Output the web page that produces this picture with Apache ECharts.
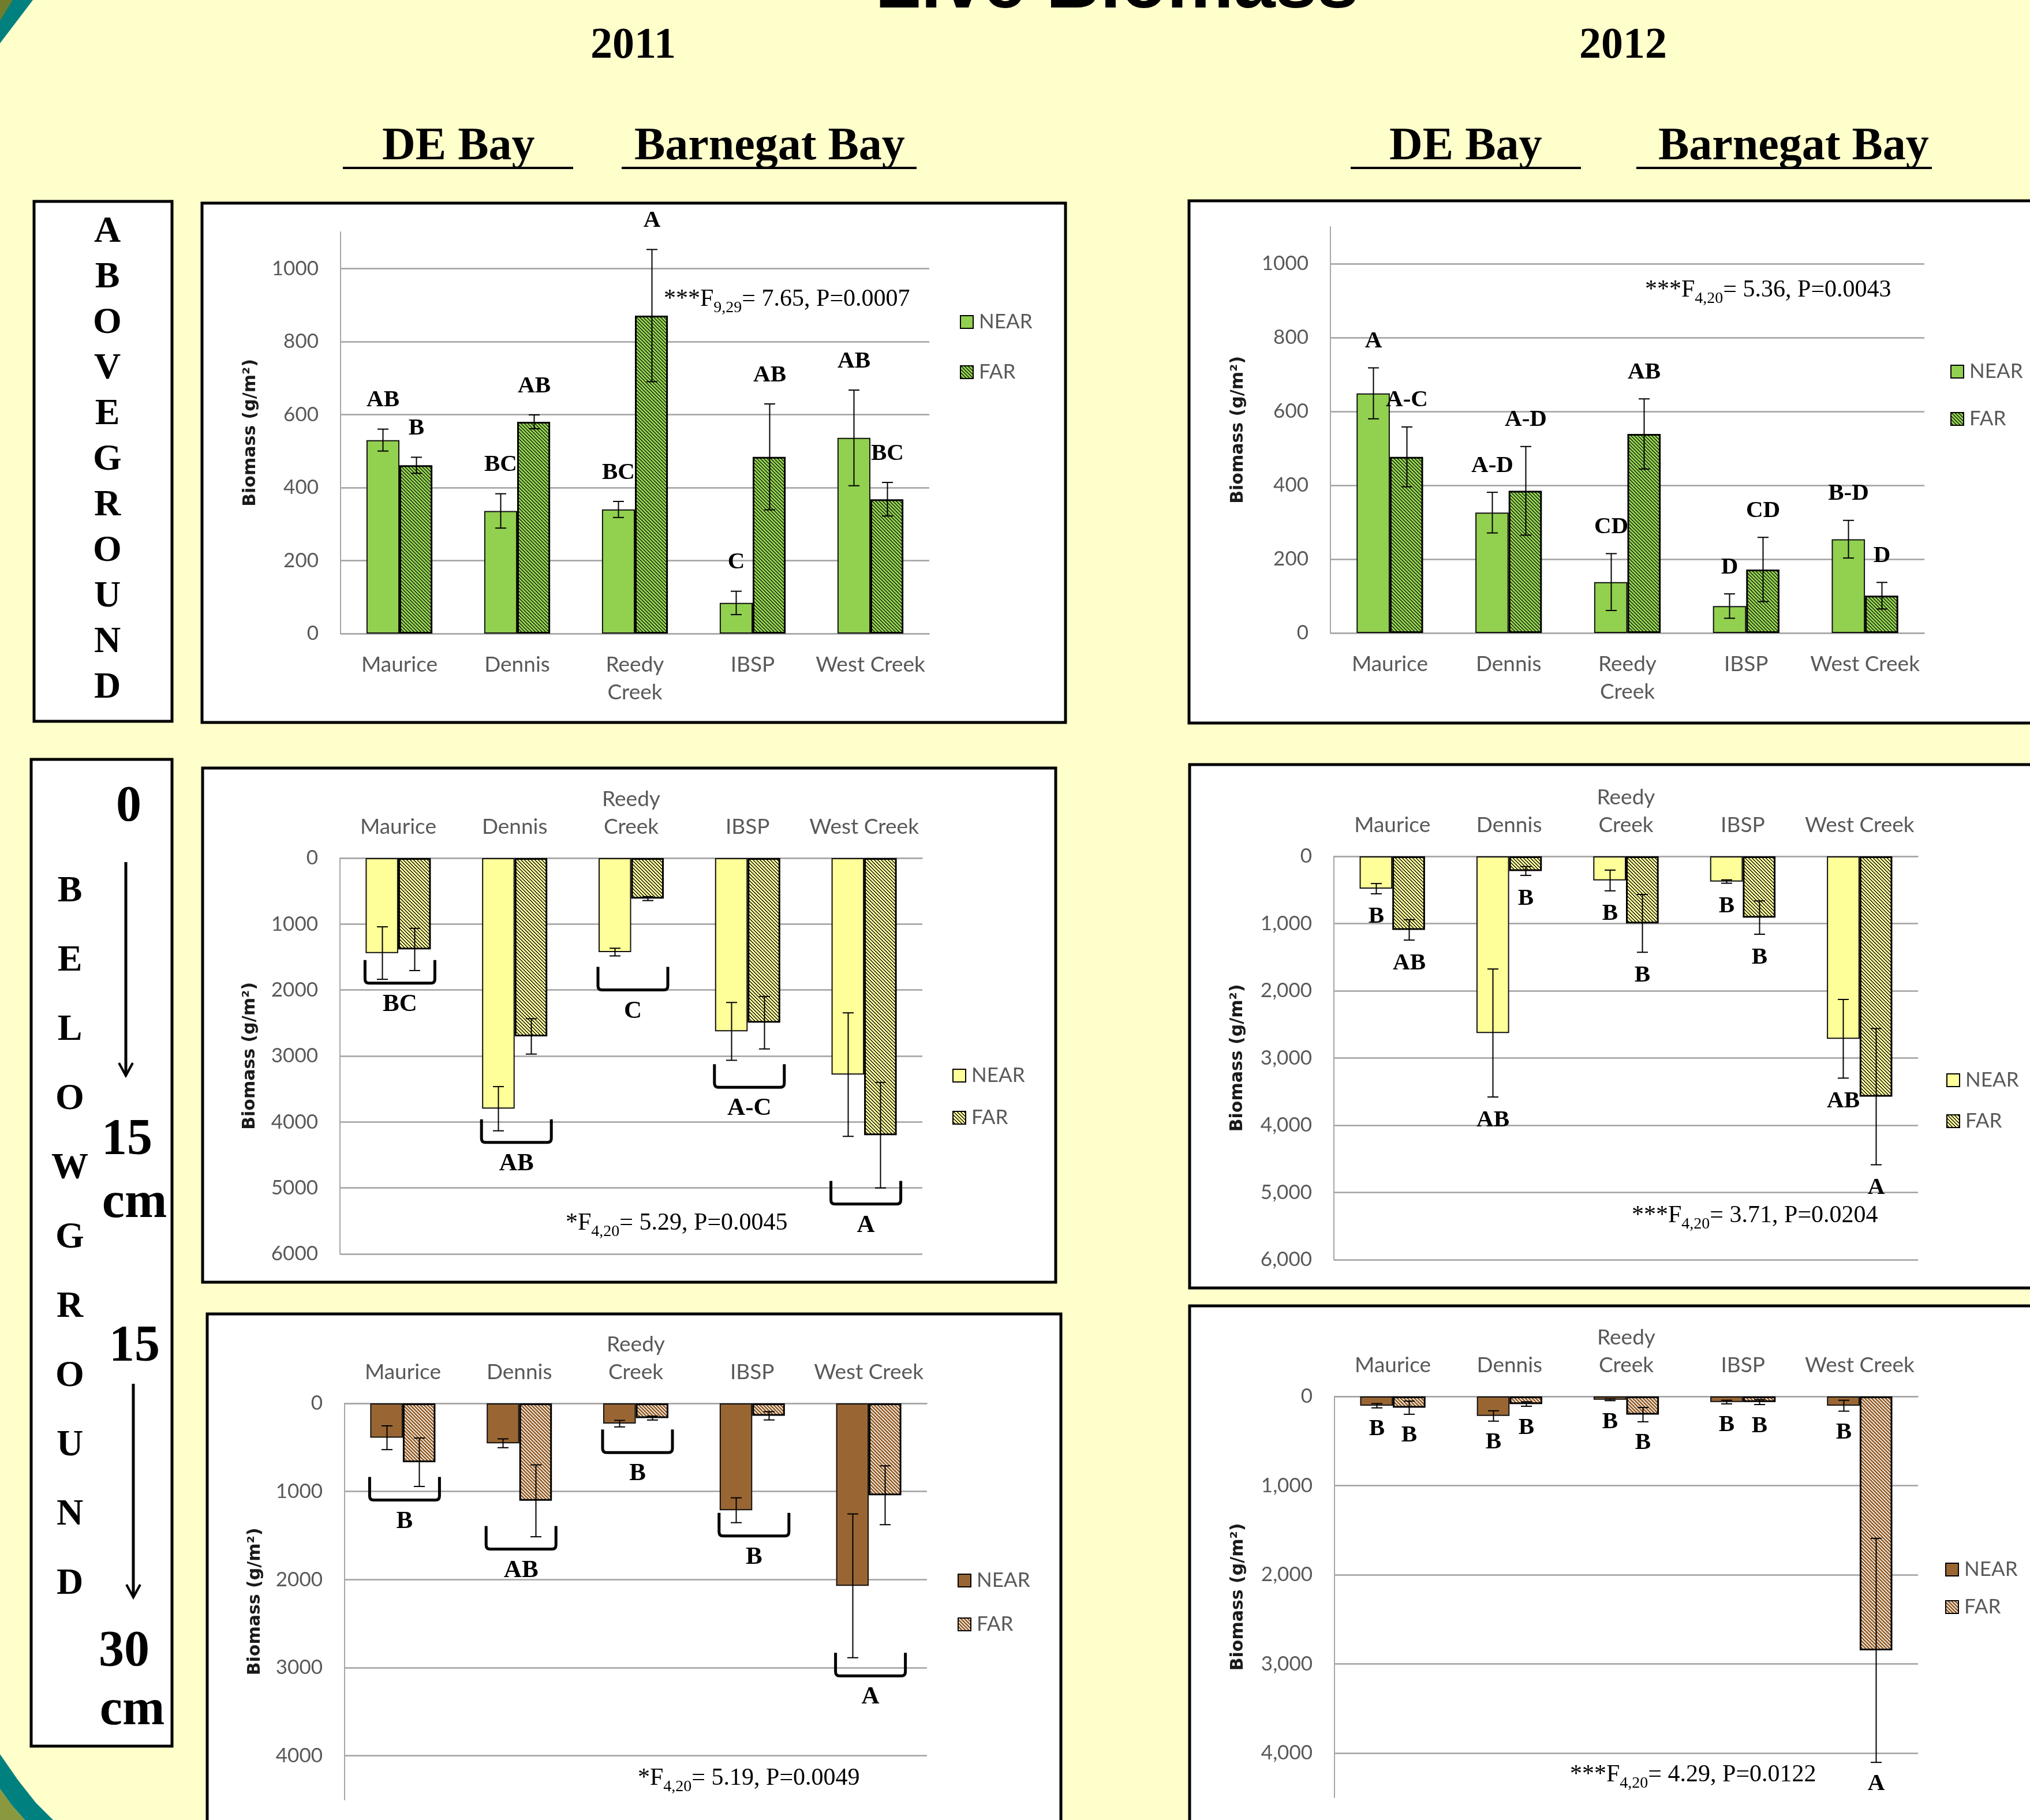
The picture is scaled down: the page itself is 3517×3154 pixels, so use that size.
<!DOCTYPE html>
<html>
<head>
<meta charset="utf-8">
<title>Live Biomass</title>
<script src="https://cdn.jsdelivr.net/npm/echarts@6/dist/echarts.min.js"></script>
<style>
  html, body { margin: 0; padding: 0; background: #FFFFCC; }
  #poster { width: 3517px; height: 3154px; }
</style>
</head>
<body>
<div id="poster"></div>
<script>
// ---- Sites (x categories) ----
const sites = ['Maurice', 'Dennis', 'Reedy\nCreek', 'IBSP', 'West Creek'];

// ---- Aboveground biomass, 2011 (g/m2, mean and SE) ----
const above2011Near = [530, 336, 340, 84, 536];
const above2011NearSE = [30, 47, 22, 32, 131];
const above2011Far = [461, 580, 871, 484, 368];
const above2011FarSE = [22, 19, 181, 145, 46];
const above2011NearGroups = ['AB', 'BC', 'BC', 'C', 'AB'];
const above2011FarGroups = ['B', 'AB', 'A', 'AB', 'BC'];

// ---- Aboveground biomass, 2012 ----
const above2012Near = [649, 326, 138, 73, 254];
const above2012NearSE = [69, 55, 77, 33, 51];
const above2012Far = [477, 385, 539, 172, 101];
const above2012FarSE = [81, 120, 95, 87, 36];
const above2012NearGroups = ['A', 'A-D', 'CD', 'D', 'B-D'];
const above2012FarGroups = ['A-C', 'A-D', 'AB', 'CD', 'D'];

// ---- Belowground 0-15 cm, 2011 ----
const below15y2011Near = [1440, 3799, 1425, 2627, 3282];
const below15y2011NearSE = [398, 335, 58, 438, 936];
const below15y2011Far = [1385, 2703, 614, 2495, 4200];
const below15y2011FarSE = [320, 268, 30, 398, 800];
const below15y2011SiteLevel = [1547, 3961, 1648, 3124, 4894];
const below15y2011SiteGroups = ['BC', 'AB', 'C', 'A-C', 'A'];

// ---- Belowground 0-15 cm, 2012 ----
const below15y2012Near = [481, 2628, 359, 375, 2714];
const below15y2012NearSE = [76, 952, 154, 25, 585];
const below15y2012Far = [1094, 218, 997, 911, 3575];
const below15y2012FarSE = [152, 66, 430, 248, 1013];
const below15y2012NearGroups = ['B', 'AB', 'B', 'B', 'AB'];
const below15y2012FarGroups = ['AB', 'B', 'B', 'B', 'A'];

// ---- Belowground 15-30 cm, 2011 ----
const below30y2011Near = [390, 453, 230, 1213, 2071];
const below30y2011NearSE = [135, 50, 37, 141, 816];
const below30y2011Far = [668, 1106, 167, 141, 1043];
const below30y2011FarSE = [275, 408, 22, 47, 334];
const below30y2011SiteLevel = [835, 1392, 297, 1243, 2832];
const below30y2011SiteGroups = ['B', 'AB', 'B', 'B', 'A'];

// ---- Belowground 15-30 cm, 2012 ----
const below30y2012Near = [104, 219, 37, 63, 104];
const below30y2012NearSE = [24, 58, 10, 20, 61];
const below30y2012Far = [126, 85, 204, 63, 2849];
const below30y2012FarSE = [74, 25, 80, 28, 1257];
const below30y2012NearGroups = ['B', 'B', 'B', 'B', 'B'];
const below30y2012FarGroups = ['B', 'B', 'B', 'B', 'A'];

// ---- Styling ----
const SERIF = '"Liberation Serif", "Times New Roman", serif';
const SANS = 'Lato, "Open Sans", sans-serif';
const GAP = 0.44;              // bar category gap
const GREEN = '#92D050', YELLOW = '#FFFF99', BROWN = '#996633';

// diagonal "\" hatch tile
function hatch(bg, ink, period, width) {
  const c = document.createElement('canvas');
  c.width = period; c.height = period;
  const g = c.getContext('2d');
  g.fillStyle = bg; g.fillRect(0, 0, period, period);
  g.fillStyle = ink;
  for (let y = 0; y < period; y++)
    for (let k = 0; k < width; k++) g.fillRect((y + k) % period, y, 1, 1);
  return { image: c, repeat: 'repeat' };
}

const panels = [
  { grid: { left: 590, top: 402, width: 1020, height: 696 }, max: 1100, interval: 200, below: false, hideMax: true, comma: false,
    near: above2011Near, nearSE: above2011NearSE, far: above2011Far, farSE: above2011FarSE,
    nearGroups: above2011NearGroups, farGroups: above2011FarGroups, letterGap: 50,
    nearFill: GREEN, farFill: hatch(GREEN, '#1d2b12', 6, 2), nameGap: 156,
    legend: { left: 1663, top: 538, gap: 47 },
    stat: { x: 1150, base: 533, star: '***', sub: '9,29', rest: '= 7.65, P=0.0007' } },
  { grid: { left: 2305, top: 393, width: 1029, height: 704 }, max: 1100, interval: 200, below: false, hideMax: true, comma: false,
    near: above2012Near, nearSE: above2012NearSE, far: above2012Far, farSE: above2012FarSE,
    nearGroups: above2012NearGroups, farGroups: above2012FarGroups, letterGap: 46,
    nearFill: GREEN, farFill: hatch(GREEN, '#1d2b12', 6, 2), nameGap: 160,
    legend: { left: 3379, top: 624, gap: 42 },
    stat: { x: 2850, base: 517, star: '***', sub: '4,20', rest: '= 5.36, P=0.0043' } },
  { grid: { left: 589, top: 1487, width: 1009, height: 686 }, max: 6000, interval: 1000, below: true, hideMax: false, comma: false,
    near: below15y2011Near, nearSE: below15y2011NearSE, far: below15y2011Far, farSE: below15y2011FarSE,
    siteLevel: below15y2011SiteLevel, siteGroups: below15y2011SiteGroups,
    nearFill: YELLOW, farFill: hatch(YELLOW, '#1a1a1a', 6, 2), nameGap: 156,
    legend: { left: 1650, top: 1844, gap: 33 },
    stat: { x: 980, base: 2134, star: '*', sub: '4,20', rest: '= 5.29, P=0.0045' } },
  { grid: { left: 2311, top: 1484, width: 1012, height: 699 }, max: 6000, interval: 1000, below: true, hideMax: false, comma: true,
    near: below15y2012Near, nearSE: below15y2012NearSE, far: below15y2012Far, farSE: below15y2012FarSE,
    nearGroups: below15y2012NearGroups, farGroups: below15y2012FarGroups, letterGap: 40,
    nearFill: YELLOW, farFill: hatch(YELLOW, '#1a1a1a', 6, 2), nameGap: 167,
    legend: { left: 3372, top: 1852, gap: 31 },
    stat: { x: 2827, base: 2121, star: '***', sub: '4,20', rest: '= 3.71, P=0.0204' } },
  { grid: { left: 597, top: 2432, width: 1009, height: 687 }, max: 4500, interval: 1000, below: true, hideMax: true, comma: false,
    near: below30y2011Near, nearSE: below30y2011NearSE, far: below30y2011Far, farSE: below30y2011FarSE,
    siteLevel: below30y2011SiteLevel, siteGroups: below30y2011SiteGroups,
    nearFill: BROWN, farFill: hatch(BROWN, '#ffffff', 6, 2), nameGap: 155,
    legend: { left: 1659, top: 2719, gap: 36 },
    stat: { x: 1105, base: 3096, star: '*', sub: '4,20', rest: '= 5.19, P=0.0049' } },
  { grid: { left: 2312, top: 2420, width: 1011, height: 695 }, max: 4500, interval: 1000, below: true, hideMax: true, comma: true,
    near: below30y2012Near, nearSE: below30y2012NearSE, far: below30y2012Far, farSE: below30y2012FarSE,
    nearGroups: below30y2012NearGroups, farGroups: below30y2012FarGroups, letterGap: 37,
    nearFill: BROWN, farFill: hatch(BROWN, '#ffffff', 6, 2), nameGap: 167,
    legend: { left: 3370, top: 2700, gap: 25 },
    stat: { x: 2720, base: 3090, star: '***', sub: '4,20', rest: '= 4.29, P=0.0122' } }
];

const withCommas = v => String(v).replace(/\B(?=(\d{3})+(?!\d))/g, ',');

// error bar (+ optional group letter) drawn at the bar's own slot
function errorSeries(i, vals, se, groups, side, below, letterGap) {
  return {
    type: 'custom', xAxisIndex: i, yAxisIndex: i, z: 4, silent: true,
    data: vals.map((v, k) => [k, v, se[k]]),
    renderItem(params, api) {
      const k = api.value(0), v = api.value(1), e = api.value(2);
      const band = api.size([1, 0])[0];
      const bw = band * (1 - GAP) / 2;
      const x = Math.round(api.coord([k, v])[0] + side * bw / 2) + 0.5;
      const yHi = api.coord([k, v + e])[1];
      const yLo = api.coord([k, v - e])[1];
      const cap = 9.5, st = { stroke: '#000', lineWidth: 2 };
      const children = [
        { type: 'line', shape: { x1: x, y1: yHi, x2: x, y2: yLo }, style: st },
        { type: 'line', shape: { x1: x - cap, y1: yHi, x2: x + cap, y2: yHi }, style: st },
        { type: 'line', shape: { x1: x - cap, y1: yLo, x2: x + cap, y2: yLo }, style: st }
      ];
      if (groups) {
        children.push({ type: 'text', style: {
          text: groups[params.dataIndex], x: x, y: yHi + (below ? letterGap : -letterGap),
          align: 'center', verticalAlign: 'middle', font: 'bold 41px ' + SERIF, fill: '#000' } });
      }
      return { type: 'group', children };
    }
  };
}

// bracket spanning both bars of a site, with the site's group letter beneath
function bracketSeries(i, levels, groups) {
  return {
    type: 'custom', xAxisIndex: i, yAxisIndex: i, z: 4, silent: true,
    data: levels.map((v, k) => [k, v]),
    renderItem(params, api) {
      const k = api.value(0), v = api.value(1);
      const band = api.size([1, 0])[0];
      const bw = band * (1 - GAP) / 2;
      const p = api.coord([k, v]);
      const cx = p[0] + 3, yTop = p[1];
      const half = bw + 4, h = 40, r = 7;
      const xl = cx - half, xr = cx + half, yb = yTop + h;
      return { type: 'group', children: [
        { type: 'path', shape: { pathData:
            `M${xl},${yTop} L${xl},${yb - r} Q${xl},${yb} ${xl + r},${yb} L${xr - r},${yb} Q${xr},${yb} ${xr},${yb - r} L${xr},${yTop}` },
          style: { stroke: '#000', lineWidth: 5, fill: null } },
        { type: 'text', style: { text: groups[params.dataIndex], x: cx, y: yb + 37,
          align: 'center', verticalAlign: 'middle', font: 'bold 43px ' + SERIF, fill: '#000' } }
      ] };
    }
  };
}

const grids = [], xAxes = [], yAxes = [], series = [], legends = [];
panels.forEach((p, i) => {
  grids.push(Object.assign({ containLabel: false }, p.grid));
  xAxes.push({
    type: 'category', gridIndex: i, data: sites, position: p.below ? 'top' : 'bottom',
    axisLine: { lineStyle: { color: '#a6a6a6', width: 2 } },
    axisTick: { length: p.below ? 12 : 15, lineStyle: { color: '#a6a6a6', width: 2 } },
    axisLabel: { interval: 0, fontFamily: SANS, fontSize: 37, color: '#595959', lineHeight: 48, margin: 30 }
  });
  yAxes.push({
    type: 'value', gridIndex: i, min: 0, max: p.max, interval: p.interval, inverse: p.below,
    axisLine: { show: true, lineStyle: { color: '#a6a6a6', width: 2 } },
    axisTick: { show: false },
    axisLabel: { fontFamily: SANS, fontSize: 35, color: '#595959', margin: 38,
      showMaxLabel: p.hideMax ? false : true,
      formatter: p.comma ? withCommas : (v => String(v)) },
    splitLine: { show: true, showMaxLine: !p.hideMax, lineStyle: { color: '#a0a0a0', width: 2.5 } },
    name: 'Biomass (g/m²)', nameLocation: 'middle', nameGap: p.nameGap, nameRotate: 90,
    nameTextStyle: { fontFamily: '"DejaVu Sans", sans-serif', fontWeight: 'bold', fontSize: 30,
      color: '#1a1a1a', verticalAlign: 'middle', align: 'center' }
  });
  series.push({
    type: 'bar', name: 'NEAR|' + i, xAxisIndex: i, yAxisIndex: i, data: p.near,
    barGap: '0%', barCategoryGap: (GAP * 100) + '%', silent: true,
    itemStyle: { color: p.nearFill, borderColor: '#111', borderWidth: 2 }
  });
  series.push({
    type: 'bar', name: 'FAR|' + i, xAxisIndex: i, yAxisIndex: i, data: p.far,
    barGap: '0%', barCategoryGap: (GAP * 100) + '%', silent: true,
    itemStyle: { color: p.farFill, borderColor: '#000', borderWidth: 3 }
  });
  series.push(errorSeries(i, p.near, p.nearSE, p.nearGroups, -1, p.below, p.letterGap));
  series.push(errorSeries(i, p.far, p.farSE, p.farGroups, 1, p.below, p.letterGap));
  if (p.siteLevel) series.push(bracketSeries(i, p.siteLevel, p.siteGroups));
  legends.push({
    orient: 'vertical', left: p.legend.left, top: p.legend.top, padding: 0,
    itemGap: p.legend.gap, itemWidth: 22, itemHeight: 22, icon: 'rect', selectedMode: false,
    data: ['NEAR|' + i, 'FAR|' + i], formatter: n => n.split('|')[0],
    textStyle: { fontFamily: SANS, fontSize: 35, color: '#595959', lineHeight: 40, padding: [0, 0, 0, 5] },
    itemStyle: { borderColor: '#000', borderWidth: 2 }
  });
});

// ---- Poster decoration: boxes, headings, side labels, statistics ----
const meas = document.createElement('canvas').getContext('2d');
const els = [];
const MID = 0.3375;   // serif middle-to-baseline ratio

function text(str, x, y, font, align, extra) {
  els.push(Object.assign({ type: 'text', z: 20, style: { text: str, x, y, font, fill: '#000',
    align: align || 'center', verticalAlign: 'middle' } }, extra || {}));
}
function rect(x, y, w, h, lw) {
  els.push({ type: 'rect', z: -5, shape: { x, y, width: w, height: h },
    style: { fill: '#ffffff', stroke: '#000', lineWidth: lw } });
}
function line(pts, lw, color) {
  els.push({ type: 'polyline', z: 20, shape: { points: pts },
    style: { stroke: color || '#000', lineWidth: lw, fill: null } });
}

// corner ornaments
els.push({ type: 'polygon', z: -4, shape: { points: [[0, 0], [57, 0], [0, 75]] }, style: { fill: '#00807F' } });
els.push({ type: 'polygon', z: -3, shape: { points: [[0, 0], [22, 0], [0, 36]] }, style: { fill: '#6f7d2c' } });
els.push({ type: 'polygon', z: -4, shape: { points: [[0, 3040], [32, 3086], [62, 3124], [92, 3154], [43, 3154], [20, 3128], [0, 3100]] }, style: { fill: '#00807F' } });
els.push({ type: 'polygon', z: -4, shape: { points: [[0, 3100], [20, 3128], [43, 3154], [0, 3154]] }, style: { fill: '#8a9840' } });

// page title (top edge)
text('Live Biomass', 1935, 22 - 0.3465 * 130, 'bold 130px "Liberation Sans", Arial, sans-serif');

// year and bay headings
text('2011', 1097, 106 - MID * 76, 'bold 76px ' + SERIF);
text('2012', 2812, 106 - MID * 76, 'bold 76px ' + SERIF);
[['DE Bay', 662], ['Barnegat Bay', 1099], ['DE Bay', 2407], ['Barnegat Bay', 2873]].forEach(([t, x]) =>
  text(t, x, 282 - MID * 80, 'bold 80px ' + SERIF, 'left'));
[[594, 993], [1077, 1588], [2340, 2739], [2835, 3347]].forEach(([a, b]) => line([[a, 291], [b, 291]], 4));

// chart frames
rect(350, 352, 1496, 900, 5);
rect(2060, 348, 1480, 905, 5);
rect(351, 1331, 1478, 891, 5);
rect(2061, 1325, 1480, 907, 5);
rect(359, 2277, 1479, 920, 5);
rect(2061, 2263, 1480, 940, 5);

// side label boxes
rect(59, 349, 239, 901, 5);
rect(54, 1316, 244, 1710, 5);
'ABOVEGROUND'.split('').forEach((ch, k) => text(ch, 186, 402 + k * 79, 'bold 64px ' + SERIF));
'BELOWGROUND'.split('').forEach((ch, k) => text(ch, 121, 1545 + k * 120, 'bold 64px ' + SERIF));
const depthFont = 'bold 88px ' + SERIF;
text('0', 223, 1399, depthFont);
text('15', 220, 1976, depthFont);
text('cm', 233, 2086, depthFont);
text('15', 233, 2334, depthFont);
text('30', 215, 2863, depthFont);
text('cm', 229, 2965, depthFont);
[[218, 1494, 1864], [231, 2398, 2768]].forEach(([x, y0, y1]) => {
  line([[x, y0], [x, y1]], 5);
  line([[x - 12, y1 - 22], [x, y1], [x + 12, y1 - 22]], 4);
});

// ANOVA statistics, with subscripted degrees of freedom
panels.forEach(p => {
  const s = p.stat, fs = 42, sfs = 28;
  meas.font = fs + 'px ' + SERIF;
  const w1 = meas.measureText(s.star + 'F').width;
  meas.font = sfs + 'px ' + SERIF;
  const w2 = meas.measureText(s.sub).width;
  text(s.star + 'F', s.x, s.base - MID * fs, fs + 'px ' + SERIF, 'left');
  text(s.sub, s.x + w1, s.base + 10 - MID * sfs, sfs + 'px ' + SERIF, 'left');
  text(s.rest, s.x + w1 + w2, s.base - MID * fs, fs + 'px ' + SERIF, 'left');
});

const chart = echarts.init(document.getElementById('poster'), null, { renderer: 'canvas', width: 3517, height: 3154 });
chart.setOption({
  backgroundColor: '#FFFFCC',
  animation: false,
  grid: grids,
  xAxis: xAxes,
  yAxis: yAxes,
  legend: legends,
  series: series,
  graphic: { elements: els }
});
</script>
</body>
</html>
